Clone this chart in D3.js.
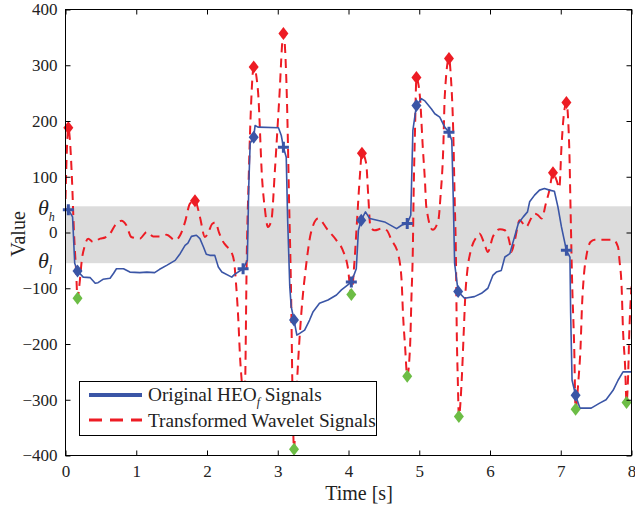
<!DOCTYPE html>
<html>
<head>
<meta charset="utf-8">
<script src="https://cdn.jsdelivr.net/npm/d3@7"></script>
<style>
  body { margin: 0; background: #fff; }
  text { font-family: "Liberation Serif", "Times New Roman", serif; fill: #222; }
</style>
</head>
<body>
<div id="chart"></div>
<script>
// HEO signal (blue), sampled by eye from the figure
var heoTime = [0.00, 0.04, 0.10, 0.13, 0.17, 0.25, 0.35, 0.42, 0.46, 0.53, 0.63, 0.68, 0.72, 0.82, 0.91, 1.05, 1.15, 1.26, 1.33, 1.43,
  1.55, 1.62, 1.69, 1.73, 1.78, 1.85, 1.90, 1.95, 1.99, 2.04, 2.11, 2.16, 2.21, 2.35, 2.39, 2.51, 2.57, 2.59, 2.61, 2.66,
  2.68, 2.72, 3.01, 3.05, 3.08, 3.12, 3.14, 3.17, 3.19, 3.23, 3.27, 3.31, 3.38, 3.45, 3.50, 3.59, 3.71, 3.83, 3.90, 4.04,
  4.11, 4.14, 4.18, 4.24, 4.30, 4.51, 4.68, 4.75, 4.83, 4.88, 4.91, 4.96, 5.03, 5.08, 5.17, 5.22, 5.29, 5.36, 5.42, 5.46,
  5.48, 5.50, 5.55, 5.64, 5.78, 5.88, 5.97, 6.04, 6.09, 6.16, 6.21, 6.28, 6.32, 6.40, 6.47, 6.53, 6.56, 6.63, 6.70, 6.77,
  6.84, 6.91, 6.96, 7.01, 7.08, 7.13, 7.14, 7.16, 7.21, 7.27, 7.43, 7.55, 7.64, 7.74, 7.81, 7.88, 8.00];
var heoValue = [42, 41, 28, -55, -69, -80, -81, -91, -90, -84, -82, -73, -65, -65, -71, -72, -71, -72, -66, -59,
  -50, -38, -23, -19, -7, -5, -11, -26, -39, -41, -41, -62, -71, -80, -75, -65, -50, 82, 160, 171,
  192, 189, 188, 174, 153, 135, 22, -97, -133, -157, -184, -181, -175, -157, -142, -127, -121, -112, -103, -89,
  -65, 4, 22, 37, 25, 19, 7, 13, 16, 31, 183, 228, 240, 236, 222, 213, 207, 189, 180, 165,
  64, -56, -106, -118, -115, -109, -100, -77, -71, -68, -44, -38, -20, 16, 28, 37, 55, 67, 76, 79,
  76, 74, 46, 10, -32, -44, -145, -265, -292, -315, -315, -306, -300, -283, -265, -250, -250];

// transformed wavelet signal (red dashed)
var wavTime = [0.00, 0.02, 0.04, 0.06, 0.09, 0.12, 0.15, 0.17, 0.20, 0.23, 0.27, 0.32, 0.39, 0.49, 0.56, 0.63, 0.70, 0.79, 0.86, 0.93,
  1.05, 1.15, 1.24, 1.33, 1.43, 1.55, 1.62, 1.69, 1.76, 1.83, 1.90, 1.97, 2.02, 2.07, 2.12, 2.17, 2.22, 2.28, 2.33, 2.38,
  2.41, 2.44, 2.47, 2.49, 2.52, 2.54, 2.56, 2.59, 2.62, 2.66, 2.72, 2.78, 2.82, 2.86, 2.91, 2.96, 3.02, 3.08, 3.13, 3.16,
  3.19, 3.21, 3.23, 3.26, 3.28, 3.33, 3.40, 3.47, 3.57, 3.71, 3.83, 3.92, 3.99, 4.04, 4.08, 4.12, 4.16, 4.19, 4.25, 4.28,
  4.31, 4.37, 4.47, 4.54, 4.61, 4.70, 4.75, 4.77, 4.80, 4.83, 4.87, 4.89, 4.91, 4.92, 4.94, 4.96, 5.01, 5.05, 5.08, 5.10,
  5.19, 5.27, 5.30, 5.34, 5.36, 5.42, 5.45, 5.48, 5.50, 5.52, 5.53, 5.545, 5.56, 5.60, 5.63, 5.65, 5.68, 5.73, 5.81, 5.85,
  5.92, 5.97, 6.04, 6.14, 6.21, 6.28, 6.30, 6.35, 6.42, 6.51, 6.58, 6.63, 6.68, 6.73, 6.79, 6.84, 6.89, 6.94, 6.98, 7.01,
  7.04, 7.08, 7.12, 7.14, 7.16, 7.19, 7.21, 7.25, 7.28, 7.30, 7.33, 7.36, 7.42, 7.48, 7.62, 7.74, 7.81, 7.83, 7.86, 7.88,
  7.91, 7.93, 7.95, 7.97, 8.00];
var wavValue = [60, 150, 188, 170, 100, 0, -70, -118, -90, -50, -25, -11, -17, -11, -9, -2, 13, 21, 13, -8,
  -11, 1, -7, -7, -4, -14, -5, 19, 52, 57, 28, -8, 0, 15, 18, 0, -15, -25, -32, -50,
  -91, -150, -230, -265, -320, -265, -60, 100, 220, 297, 255, 94, 40, 10, 22, 112, 237, 357, 237, 58,
  -121, -300, -389, -300, -250, -150, -60, 0, 25, 4, -14, -32, -62, -111, -60, 20, 100, 143, 124, 64,
  10, 4, 7, 4, -14, -38, -85, -145, -205, -258, -205, -115, -26, 64, 183, 277, 243, 153, 94, 46,
  5, 22, 64, 153, 243, 312, 273, 183, 64, -56, -175, -265, -330, -265, -175, -115, -68, -32, -8, -2,
  -20, -35, -8, 6, 4, -20, -35, -14, 22, 10, 25, 34, 31, 25, 52, 76, 107, 94, 80, 153,
  207, 233, 153, 34, -85, -205, -317, -265, -205, -133, -73, -44, -17, -13, -13, -13, -26, -50, -97, -175,
  -241, -305, -265, -175, -97];

// detected points
var peakTime = [0.04, 1.83, 2.66, 3.08, 4.19, 4.96, 5.42, 6.89, 7.08];
var peakValue = [188, 57, 297, 357, 142, 278, 312, 107, 233];
var valleyTime = [0.17, 2.52, 3.23, 4.04, 4.83, 5.56, 7.21, 7.93];
var valleyValue = [-118, -320, -389, -111, -258, -330, -317, -305];
var onsetTime = [0.04, 2.51, 3.08, 4.04, 4.83, 5.42, 7.08];
var onsetValue = [41, -65, 153, -89, 16, 180, -32];
var hitTime = [0.17, 2.66, 3.23, 4.18, 4.96, 5.55, 7.21];
var hitValue = [-69, 171, -157, 22, 228, -106, -292];

var thetaHigh = 47, thetaLow = -55;
var xTicks = [0, 1, 2, 3, 4, 5, 6, 7, 8];
var yTicks = [-400, -300, -200, -100, 0, 100, 200, 300, 400];
var legendLabels = ["Original HEO", "Transformed Wavelet Signals"];

var blue = "#3a55a6", red = "#ed1c24", green = "#6cbd45";

var width = 635, height = 510;
var plotLeft = 65.5, plotRight = 631.5, plotTop = 9.5, plotBottom = 455.5;

var svg = d3.select("#chart").append("svg")
    .attr("width", width)
    .attr("height", height);

var x = d3.scaleLinear().domain([0, 8]).range([plotLeft, plotRight]);
var y = d3.scaleLinear().domain([-400, 400]).range([plotBottom, plotTop]);

// threshold band
svg.append("rect")
    .attr("x", x(0)).attr("width", x(8) - x(0))
    .attr("y", y(thetaHigh)).attr("height", y(thetaLow) - y(thetaHigh))
    .attr("fill", "#dcdcdc");

var plot = svg.append("g");
plot.append("clipPath").attr("id", "clip")
  .append("rect").attr("x", plotLeft).attr("y", plotTop)
  .attr("width", plotRight - plotLeft).attr("height", plotBottom - plotTop);

var wav = wavTime.map(function(t, i) { return [t, wavValue[i]]; });
var heo = heoTime.map(function(t, i) { return [t, heoValue[i]]; });

plot.append("path")
    .datum(wav)
    .attr("clip-path", "url(#clip)")
    .attr("fill", "none")
    .attr("stroke", red)
    .attr("stroke-width", 2)
    .attr("stroke-dasharray", "9,6")
    .attr("d", d3.line().curve(d3.curveMonotoneX)
        .x(function(d) { return x(d[0]); })
        .y(function(d) { return y(d[1]); }));

plot.append("path")
    .datum(heo)
    .attr("fill", "none")
    .attr("stroke", blue)
    .attr("stroke-width", 1.6)
    .attr("stroke-linejoin", "round")
    .attr("d", d3.line()
        .x(function(d) { return x(d[0]); })
        .y(function(d) { return y(d[1]); }));

function diamond(px, py) {
  return "M" + px + "," + (py - 6.5) + "L" + (px + 5) + "," + py + "L" + px + "," + (py + 6.5) + "L" + (px - 5) + "," + py + "Z";
}

function drawDiamonds(ts, vs, color) {
  plot.selectAll(null)
      .data(ts)
      .enter().append("path")
      .attr("d", function(t, i) { return diamond(x(t), y(vs[i])); })
      .attr("fill", color);
}

drawDiamonds(peakTime, peakValue, red);
drawDiamonds(valleyTime, valleyValue, green);
drawDiamonds(hitTime, hitValue, blue);

plot.selectAll(".cross")
    .data(onsetTime)
    .enter().append("path")
    .attr("class", "cross")
    .attr("d", function(t, i) {
      var px = x(t), py = y(onsetValue[i]);
      return "M" + (px - 5.5) + "," + py + "H" + (px + 5.5) + "M" + px + "," + (py - 5.5) + "V" + (py + 5.5);
    })
    .attr("stroke", blue)
    .attr("stroke-width", 3);

// axes with inward ticks on all four sides
svg.append("g")
    .attr("transform", "translate(0," + plotBottom + ")")
    .call(d3.axisBottom(x).tickValues(xTicks).tickSize(-5).tickPadding(9))
    .call(function(g) { g.select(".domain").remove(); });
svg.append("g")
    .attr("transform", "translate(0," + plotTop + ")")
    .call(d3.axisTop(x).tickValues(xTicks).tickSize(-5).tickFormat(""))
    .call(function(g) { g.select(".domain").remove(); });
svg.append("g")
    .attr("transform", "translate(" + plotLeft + ",0)")
    .call(d3.axisLeft(y).tickValues(yTicks).tickSize(-5).tickPadding(8))
    .call(function(g) { g.select(".domain").remove(); });
svg.append("g")
    .attr("transform", "translate(" + plotRight + ",0)")
    .call(d3.axisRight(y).tickValues(yTicks).tickSize(-5).tickFormat(""))
    .call(function(g) { g.select(".domain").remove(); });

svg.selectAll(".tick text")
    .attr("font-family", "Liberation Serif, Times New Roman, serif")
    .attr("font-size", 17)
    .attr("fill", "#222");
svg.selectAll(".tick line").attr("stroke", "#000");

svg.append("rect")
    .attr("x", plotLeft).attr("y", plotTop)
    .attr("width", plotRight - plotLeft).attr("height", plotBottom - plotTop)
    .attr("fill", "none").attr("stroke", "#000").attr("stroke-width", 1);

// threshold labels
function thetaLabel(sub, py) {
  var t = svg.append("text")
      .attr("x", 38).attr("y", py)
      .attr("font-size", 22).attr("font-style", "italic");
  t.append("tspan").text("θ");
  t.append("tspan").attr("font-size", 12).attr("dy", 6).text(sub);
}
thetaLabel("h", 215);
thetaLabel("l", 268);

// axis titles
svg.append("text")
    .attr("x", 359).attr("y", 500)
    .attr("text-anchor", "middle")
    .attr("font-size", 20)
    .text("Time [s]");
svg.append("text")
    .attr("transform", "translate(25,234) rotate(-90)")
    .attr("text-anchor", "middle")
    .attr("font-size", 20)
    .text("Value");

// legend
var lg = svg.append("g");
lg.append("rect")
    .attr("x", 79.5).attr("y", 381.5).attr("width", 297).attr("height", 54)
    .attr("fill", "#fff").attr("stroke", "#000").attr("stroke-width", 1);
lg.append("line")
    .attr("x1", 89).attr("x2", 142).attr("y1", 395).attr("y2", 395)
    .attr("stroke", blue).attr("stroke-width", 4);
lg.append("line")
    .attr("x1", 89).attr("x2", 142).attr("y1", 420).attr("y2", 420)
    .attr("stroke", red).attr("stroke-width", 3).attr("stroke-dasharray", "13,8");
var l1 = lg.append("text").attr("x", 148).attr("y", 401).attr("font-size", 19.3);
l1.append("tspan").text(legendLabels[0]);
l1.append("tspan").attr("font-size", 12).attr("font-style", "italic").attr("dy", 5).text("f");
l1.append("tspan").attr("dy", -5).text(" Signals");
lg.append("text").attr("x", 148).attr("y", 426.5).attr("font-size", 19.3).text(legendLabels[1]);
</script>
</body>
</html>
